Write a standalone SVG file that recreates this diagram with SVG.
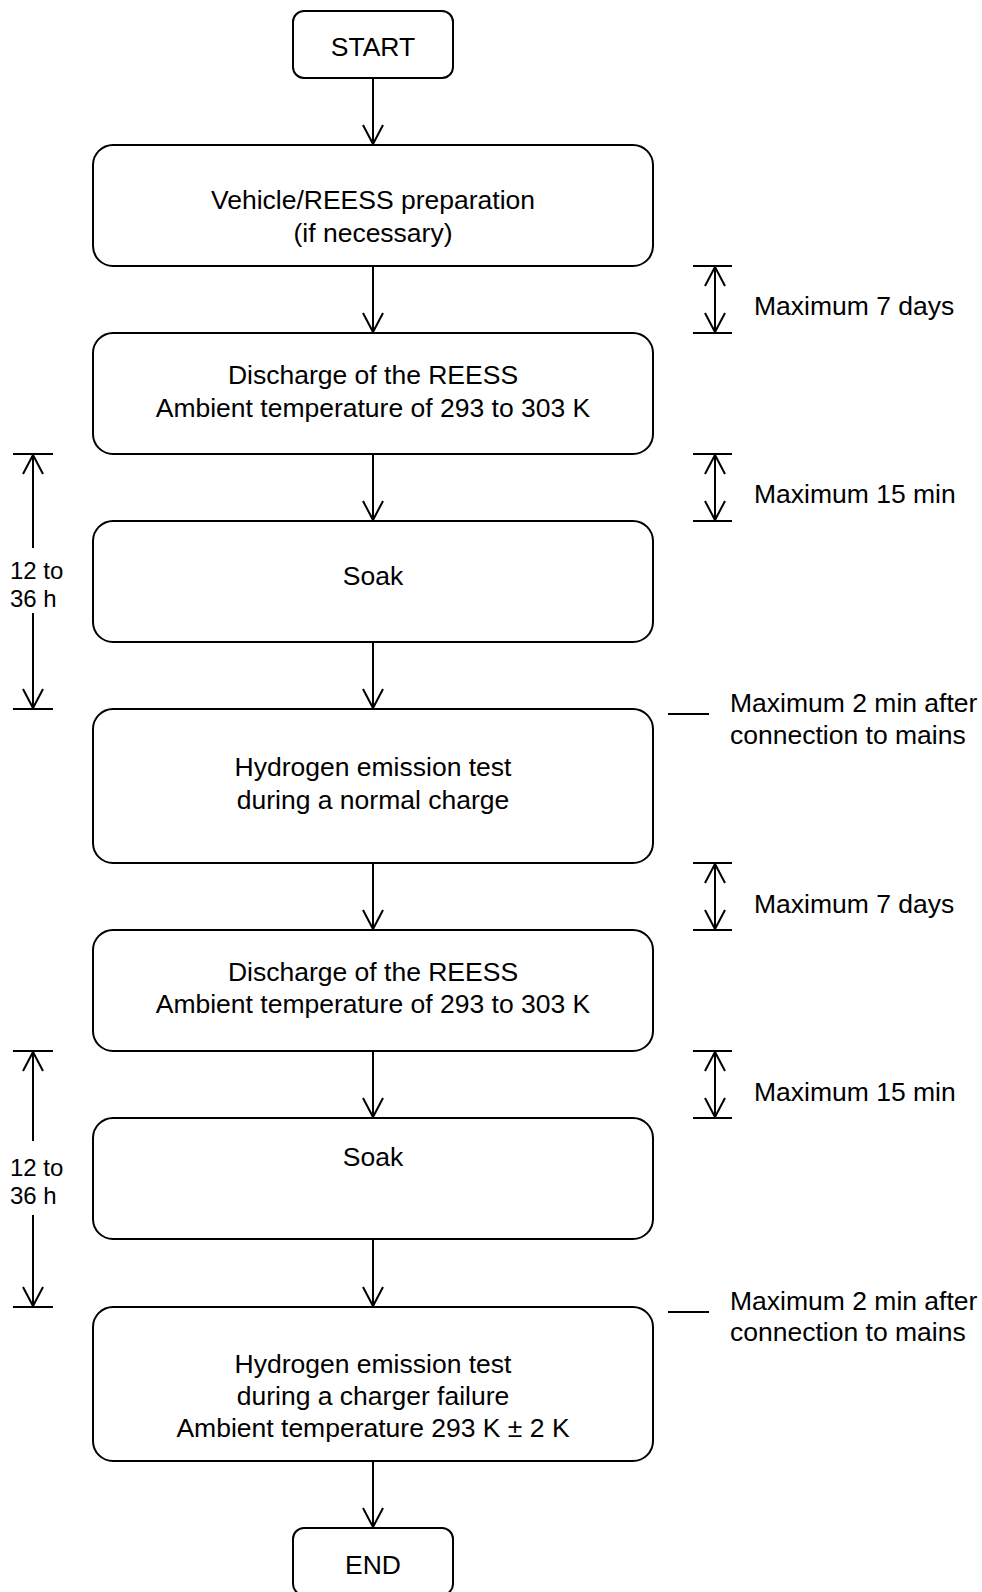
<svg xmlns="http://www.w3.org/2000/svg" width="982" height="1592" viewBox="0 0 982 1592">
<style>
.box{fill:#fff;stroke:#000;stroke-width:2}
.t{font-family:"Liberation Sans",Arial,sans-serif;font-size:26.5px;fill:#000}
.s{font-size:24px}
.c{text-anchor:middle}
.ln{stroke:#000;stroke-width:2;fill:none}
.ar{stroke:#000;stroke-width:2;fill:none;marker-end:url(#ah)}
.dar{stroke:#000;stroke-width:2;fill:none;marker-end:url(#ah);marker-start:url(#ahs)}
</style>
<defs>
<marker id="ah" viewBox="0 0 24 24" markerWidth="24" markerHeight="24" refX="20" refY="12" orient="auto" markerUnits="userSpaceOnUse" overflow="visible">
<path d="M1,2 L20,12 L1,22" fill="none" stroke="#000" stroke-width="2"/>
</marker>
<marker id="ahs" viewBox="0 0 24 24" markerWidth="24" markerHeight="24" refX="20" refY="12" orient="auto-start-reverse" markerUnits="userSpaceOnUse" overflow="visible">
<path d="M1,2 L20,12 L1,22" fill="none" stroke="#000" stroke-width="2"/>
</marker>
</defs>
<rect width="982" height="1592" fill="#fff"/>

<g id="connectors">
<line class="ar" x1="373" y1="78" x2="373" y2="144"/>
<line class="ar" x1="373" y1="266" x2="373" y2="332"/>
<line class="ar" x1="373" y1="454" x2="373" y2="520"/>
<line class="ar" x1="373" y1="642" x2="373" y2="708"/>
<line class="ar" x1="373" y1="863" x2="373" y2="929"/>
<line class="ar" x1="373" y1="1051" x2="373" y2="1117"/>
<line class="ar" x1="373" y1="1239" x2="373" y2="1306"/>
<line class="ar" x1="373" y1="1461" x2="373" y2="1527"/>
</g>

<g id="start">
<rect class="box" x="293" y="11" width="160" height="67" rx="11"/>
<text class="t c" x="373" y="56">START</text>
</g>
<g id="prep">
<rect class="box" x="93" y="145" width="560" height="121" rx="20"/>
<text class="t c" x="373" y="209">Vehicle/REESS preparation</text>
<text class="t c" x="373" y="241.5">(if necessary)</text>
</g>
<g id="discharge1">
<rect class="box" x="93" y="333" width="560" height="121" rx="20"/>
<text class="t c" x="373" y="384">Discharge of the REESS</text>
<text class="t c" x="373" y="416.5">Ambient temperature of 293 to 303 K</text>
</g>
<g id="soak1">
<rect class="box" x="93" y="521" width="560" height="121" rx="20"/>
<text class="t c" x="373" y="585">Soak</text>
</g>
<g id="test1">
<rect class="box" x="93" y="709" width="560" height="154" rx="20"/>
<text class="t c" x="373" y="776">Hydrogen emission test</text>
<text class="t c" x="373" y="808.5">during a normal charge</text>
</g>
<g id="discharge2">
<rect class="box" x="93" y="930" width="560" height="121" rx="20"/>
<text class="t c" x="373" y="981">Discharge of the REESS</text>
<text class="t c" x="373" y="1013">Ambient temperature of 293 to 303 K</text>
</g>
<g id="soak2">
<rect class="box" x="93" y="1118" width="560" height="121" rx="20"/>
<text class="t c" x="373" y="1166">Soak</text>
</g>
<g id="test2">
<rect class="box" x="93" y="1307" width="560" height="154" rx="20"/>
<text class="t c" x="373" y="1373">Hydrogen emission test</text>
<text class="t c" x="373" y="1405">during a charger failure</text>
<text class="t c" x="373" y="1436.5">Ambient temperature 293 K ± 2 K</text>
</g>
<g id="end">
<rect class="box" x="293" y="1528" width="160" height="67" rx="11"/>
<text class="t c" x="373" y="1574">END</text>
</g>

<g id="dim-7days-1">
<line class="ln" x1="693" y1="266" x2="732" y2="266"/>
<line class="ln" x1="693" y1="333" x2="732" y2="333"/>
<line class="dar" x1="715" y1="267" x2="715" y2="332"/>
<text class="t" x="754" y="315">Maximum 7 days</text>
</g>
<g id="dim-15min-1">
<line class="ln" x1="693" y1="454" x2="732" y2="454"/>
<line class="ln" x1="693" y1="521" x2="732" y2="521"/>
<line class="dar" x1="715" y1="455" x2="715" y2="520"/>
<text class="t" x="754" y="503">Maximum 15 min</text>
</g>
<g id="dim-2min-1">
<line class="ln" x1="668" y1="714" x2="709" y2="714"/>
<text class="t" x="730" y="712">Maximum 2 min after</text>
<text class="t" x="730" y="744">connection to mains</text>
</g>
<g id="dim-7days-2">
<line class="ln" x1="693" y1="863" x2="732" y2="863"/>
<line class="ln" x1="693" y1="930" x2="732" y2="930"/>
<line class="dar" x1="715" y1="864" x2="715" y2="929"/>
<text class="t" x="754" y="913">Maximum 7 days</text>
</g>
<g id="dim-15min-2">
<line class="ln" x1="693" y1="1051" x2="732" y2="1051"/>
<line class="ln" x1="693" y1="1118" x2="732" y2="1118"/>
<line class="dar" x1="715" y1="1052" x2="715" y2="1117"/>
<text class="t" x="754" y="1101">Maximum 15 min</text>
</g>
<g id="dim-2min-2">
<line class="ln" x1="668" y1="1312" x2="709" y2="1312"/>
<text class="t" x="730" y="1310">Maximum 2 min after</text>
<text class="t" x="730" y="1341">connection to mains</text>
</g>

<g id="dim-soak-1">
<line class="ln" x1="13" y1="454" x2="53" y2="454"/>
<line class="ln" x1="13" y1="709" x2="53" y2="709"/>
<line class="ar" x1="33" y1="548" x2="33" y2="455"/>
<line class="ar" x1="33" y1="613" x2="33" y2="708"/>
<text class="t s" x="10" y="579">12 to</text>
<text class="t s" x="10" y="607">36 h</text>
</g>
<g id="dim-soak-2">
<line class="ln" x1="13" y1="1051" x2="53" y2="1051"/>
<line class="ln" x1="13" y1="1307" x2="53" y2="1307"/>
<line class="ar" x1="33" y1="1141" x2="33" y2="1052"/>
<line class="ar" x1="33" y1="1215" x2="33" y2="1306"/>
<text class="t s" x="10" y="1176">12 to</text>
<text class="t s" x="10" y="1204">36 h</text>
</g>
</svg>
